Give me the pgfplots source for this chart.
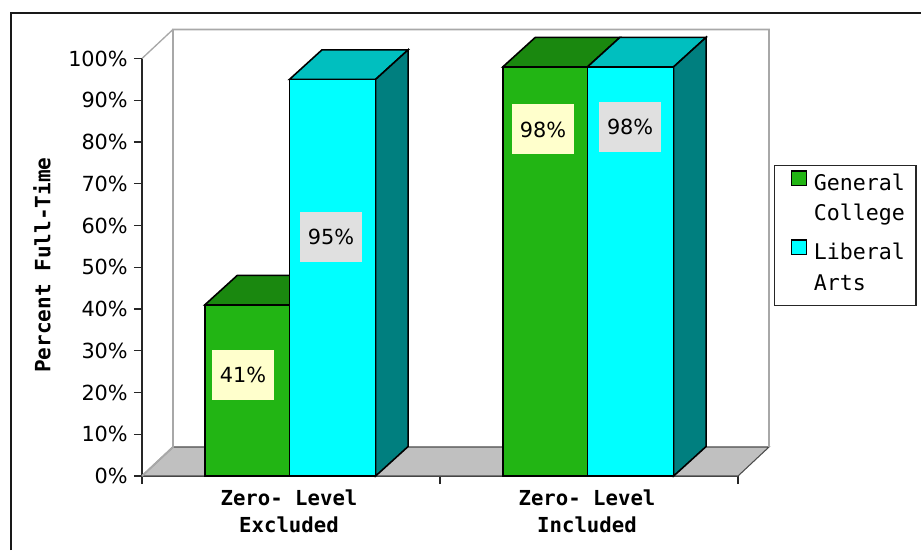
\documentclass[border=0pt]{standalone}
\usepackage{fontspec}
\usepackage{pgfplots}
\pgfplotsset{compat=1.18}
\setmainfont{DejaVu Sans}
\newfontfamily\monobold[BoldFont={DejaVu Sans Mono Bold}]{DejaVu Sans Mono}
\newfontfamily\monoplain{DejaVu Sans Mono}
\definecolor{gcfront}{HTML}{22B514}
\definecolor{gctop}{HTML}{1A880F}
\definecolor{lafront}{HTML}{00FFFF}
\definecolor{latop}{HTML}{00BFBF}
\definecolor{laside}{HTML}{007F7F}
\definecolor{floorgray}{HTML}{C0C0C0}
\definecolor{wallgray}{HTML}{A8A8A8}
\definecolor{tagyellow}{HTML}{FFFFCC}
\definecolor{taggray}{HTML}{E0E0E0}
\begin{document}
% one drawing unit is one pixel of the final image
\begin{tikzpicture}[x=0.75pt,y=0.75pt]
\path[use as bounding box] (0,0) rectangle (921,550);
\draw[line width=1.5pt,black!90] (11,0) -- (11,537) -- (921,537);
\begin{axis}[
  at={(106.5pt,55.5pt)}, anchor=south west,
  scale only axis, width=447pt, height=313.125pt,
  xmin=0, xmax=2, ymin=0, ymax=100,
  clip=false,
  axis x line*=bottom, axis y line*=left,
  axis line style={line width=1.4pt,black!85,-},
  tick align=outside, major tick length=6pt,
  every tick/.style={line width=1pt,black!85},
  ytick={0,10,...,100},
  yticklabel={\pgfmathprintnumber{\tick}\%},
  xtick={0,1,2}, xticklabels={},
  extra x ticks={0.5,1.5},
  extra x tick labels={{Zero- Level\\Excluded},{Zero- Level\\Included}},
  extra x tick style={major tick length=0pt,
    xticklabel style={font={\monobold\bfseries\fontsize{15.5}{19.9}\selectfont},
      align=center, yshift=-7pt, xshift=-1.5pt}},
  /pgf/number format/assume math mode=true,
  yticklabel style={font=\fontsize{15.6}{18}\selectfont, inner sep=0pt, xshift=-4.5pt},
  ylabel={Percent Full-Time},
  ylabel style={font={\monobold\bfseries\fontsize{15.8}{18}\selectfont},
    at={(axis description cs:-0.168,0.505)}, anchor=center},
  legend style={
    at={(axis description cs:1.0596,0.746)}, anchor=north west,
    draw=black!85, line width=1.2pt, inner xsep=8.5pt, inner ysep=3.5pt,
    font={\monoplain\fontsize{16.2}{18}\selectfont},
    row sep=0pt,
    nodes={inner sep=0pt, line width=0.8pt, text height=15pt, text depth=8pt}},
  legend cell align=left,
]
% floor and back wall of the box
\addplot[fill=floorgray, draw=black!70, line width=0.8pt, forget plot]
  coordinates {(0,0) (0.104,6.95) (2.104,6.95) (2,0)} -- cycle;
\addplot[draw=wallgray, line width=1.4pt, forget plot]
  coordinates {(0,0) (0.104,6.95) (0.104,106.95) (2.104,106.95) (2.104,6.95)};
\addplot[draw=wallgray, line width=1pt, forget plot]
  coordinates {(0,100) (0.104,106.95)};

% General College: top faces, then front faces
\addplot[fill=gctop, draw=black, line width=1.2pt, forget plot]
  coordinates {(0.211,41) (0.320,48.07) (0.604,48.07) (0.495,41)} -- cycle;
\addplot[fill=gctop, draw=black, line width=1.2pt, forget plot]
  coordinates {(1.211,98) (1.320,105.07) (1.604,105.07) (1.495,98)} -- cycle;
\addplot[ybar, bar width=63.4pt, bar shift=-32.8pt, fill=gcfront, draw=black,
  line width=1.3pt, forget plot]
  coordinates {(0.5,41) (1.5,98)};

% Liberal Arts: top and side faces, then front faces
\addplot[fill=latop, draw=black, line width=1.2pt, forget plot]
  coordinates {(0.495,95) (0.604,102.07) (0.893,102.07) (0.784,95)} -- cycle;
\addplot[fill=laside, draw=black, line width=1.2pt, forget plot]
  coordinates {(0.784,0) (0.893,7.07) (0.893,102.07) (0.784,95)} -- cycle;
\addplot[fill=latop, draw=black, line width=1.2pt, forget plot]
  coordinates {(1.495,98) (1.604,105.07) (1.893,105.07) (1.784,98)} -- cycle;
\addplot[fill=laside, draw=black, line width=1.2pt, forget plot]
  coordinates {(1.784,0) (1.893,7.07) (1.893,105.07) (1.784,98)} -- cycle;
\addplot[ybar, bar width=64.5pt, bar shift=31.1pt, fill=lafront, draw=black,
  line width=1.3pt, forget plot]
  coordinates {(0.5,95) (1.5,98)};

% value tags
\begin{scope}[every node/.style={minimum width=46.5pt, minimum height=37.5pt,
    inner sep=0pt, font=\fontsize{15.6}{18}\selectfont}]
\node[fill=tagyellow] at (axis cs:0.339,24.2) {41\%};
\node[fill=taggray]   at (axis cs:0.634,57.2) {95\%};
\node[fill=tagyellow] at (axis cs:1.346,83.0) {98\%};
\node[fill=taggray]   at (axis cs:1.638,83.6) {98\%};
\end{scope}

% legend: two swatches, each entry over two rows
\addlegendimage{legend image code/.code={
  \path[draw=none] (-4.5pt,0pt) -- (16.7pt,0pt);
  \draw[black,line width=1.2pt,fill=gcfront] (0pt,0pt) rectangle (11pt,11pt);}}
\addlegendentry{General}
\addlegendimage{legend image code/.code={\path[draw=none] (-4.5pt,0pt) -- (16.7pt,0pt);}}
\addlegendentry{College}
\addlegendimage{legend image code/.code={
  \path[draw=none] (-4.5pt,0pt) -- (16.7pt,17.4pt);
  \draw[black,line width=1.2pt,fill=lafront] (0pt,0pt) rectangle (11pt,11pt);}}
\addlegendentry{Liberal}
\addlegendimage{legend image code/.code={\path[draw=none] (-4.5pt,0pt) -- (16.7pt,0pt);}}
\addlegendentry{Arts}
\end{axis}
\end{tikzpicture}
\end{document}
